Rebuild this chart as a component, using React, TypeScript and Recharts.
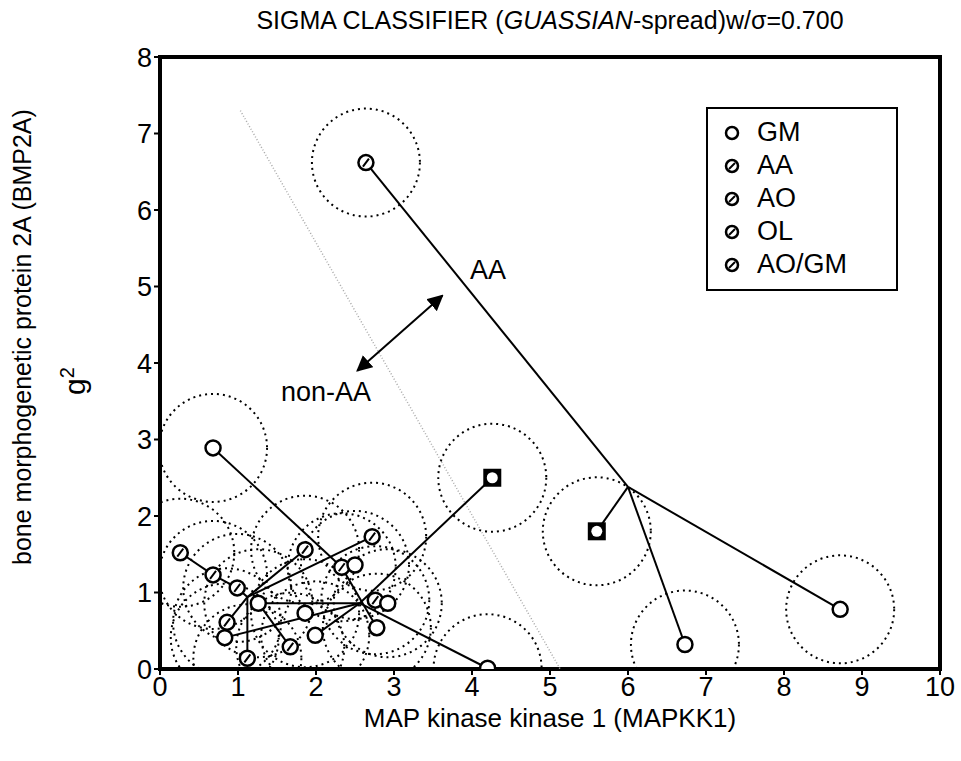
import React from 'react';
import { ScatterChart, Scatter, XAxis, YAxis, ReferenceLine, ReferenceArea } from 'recharts';

const FONT = '"Liberation Sans Narrow", "Liberation Sans", Arial, sans-serif';

// samples: x = MAPKK1, y = BMP2A, kind = legend class
const samples = [
  { x: 2.64, y: 6.62, kind: 'AA' },
  { x: 8.72, y: 0.78, kind: 'GM' },
  { x: 6.73, y: 0.32, kind: 'GM' },
  { x: 0.68, y: 2.89, kind: 'GM' },
  { x: 2.72, y: 1.73, kind: 'AO' },
  { x: 0.26, y: 1.52, kind: 'AO' },
  { x: 1.86, y: 1.56, kind: 'AA' },
  { x: 0.68, y: 1.23, kind: 'AO' },
  { x: 0.99, y: 1.06, kind: 'AO' },
  { x: 2.33, y: 1.33, kind: 'OL' },
  { x: 2.5, y: 1.36, kind: 'GM' },
  { x: 1.26, y: 0.86, kind: 'GM' },
  { x: 2.76, y: 0.9, kind: 'OL' },
  { x: 2.92, y: 0.86, kind: 'GM' },
  { x: 1.86, y: 0.73, kind: 'GM' },
  { x: 0.86, y: 0.61, kind: 'AO' },
  { x: 0.83, y: 0.41, kind: 'GM' },
  { x: 1.99, y: 0.44, kind: 'GM' },
  { x: 2.78, y: 0.54, kind: 'GM' },
  { x: 1.67, y: 0.29, kind: 'AA' },
  { x: 1.12, y: 0.14, kind: 'AO' },
  { x: 4.2, y: 0.01, kind: 'GM' },
];

const prototypes = [
  { x: 4.26, y: 2.5 },
  { x: 5.6, y: 1.8 },
];

// tree links [x1, y1, x2, y2]
const links: [number, number, number, number][] = [
  [2.64, 6.62, 6.0, 2.38],
  [6.0, 2.38, 8.72, 0.78],
  [6.0, 2.38, 6.73, 0.32],
  [6.0, 2.38, 5.6, 1.8],
  [0.68, 2.89, 2.33, 1.33],
  [2.33, 1.33, 2.78, 0.54],
  [4.26, 2.5, 2.56, 0.86],
  [2.56, 0.86, 4.2, 0.01],
  [2.56, 0.86, 1.26, 0.86],
  [2.56, 0.86, 0.83, 0.41],
  [2.56, 0.86, 1.99, 0.44],
  [1.12, 0.94, 2.72, 1.73],
  [1.12, 0.94, 1.86, 1.56],
  [0.86, 0.61, 1.12, 0.94],
  [1.12, 0.94, 1.12, 0.14],
  [0.26, 1.52, 0.68, 1.23],
  [0.68, 1.23, 0.99, 1.06],
  [0.99, 1.06, 1.12, 0.94],
  [1.26, 0.86, 1.67, 0.29],
];

const xTicks = [0, 1, 2, 3, 4, 5, 6, 7, 8, 9, 10];
const yTicks = [0, 1, 2, 3, 4, 5, 6, 7, 8];
const legendItems = ['GM', 'AA', 'AO', 'OL', 'AO/GM'];

const Halo = (p: any) => (
  <circle cx={p.cx} cy={p.cy} r={54} fill="none" stroke="#000" strokeWidth={2} strokeDasharray="2 4" />
);

const Marker = (p: any) => (
  <g>
    <circle cx={p.cx} cy={p.cy} r={7.5} fill="#fff" stroke="#000" strokeWidth={2.5} />
    {p.payload && p.payload.kind !== 'GM' && (
      <line x1={p.cx - 3} y1={p.cy + 4} x2={p.cx + 3} y2={p.cy - 4} stroke="#000" strokeWidth={2} />
    )}
  </g>
);

const Proto = (p: any) => (
  <g>
    <rect x={p.cx - 9} y={p.cy - 9} width={18} height={18} fill="#000" />
    <circle cx={p.cx} cy={p.cy} r={5.5} fill="#fff" />
  </g>
);

const tick = { fill: '#000', fontSize: 27, fontFamily: FONT };

export default function App() {
  return (
    <div style={{ position: 'absolute', left: 0, top: 0, width: 961, height: 761, background: '#fff', fontFamily: FONT }}>
      <div style={{ position: 'absolute', left: 160, width: 780, top: 6, textAlign: 'center', fontSize: 25 }}>
        SIGMA CLASSIFIER (<i>GUASSIAN</i>-spread)w/σ=0.700
      </div>
      <ScatterChart width={961} height={761} margin={{ top: 57, right: 21, bottom: 52, left: 100 }}>
        <defs>
          <marker id="ah" viewBox="0 0 10 10" refX="9" refY="5" markerWidth="8" markerHeight="8" orient="auto-start-reverse">
            <path d="M0,0 L10,5 L0,10 z" fill="#000" />
          </marker>
        </defs>
        <XAxis type="number" dataKey="x" domain={[0, 10]} ticks={xTicks} tick={tick} tickLine={{ stroke: '#000', strokeWidth: 2 }}
          tickSize={6} axisLine={false} height={40} allowDataOverflow
          label={{ value: 'MAP kinase kinase 1 (MAPKK1)', position: 'bottom', offset: 0, fill: '#000', fontSize: 26, fontFamily: FONT }} />
        <YAxis type="number" dataKey="y" domain={[0, 8]} ticks={yTicks} tick={tick} tickLine={{ stroke: '#000', strokeWidth: 2 }}
          tickSize={6} axisLine={false} width={60} allowDataOverflow />
        <ReferenceLine segment={[{ x: 1.03, y: 7.3 }, { x: 5.13, y: 0 }]} stroke="#aaa" strokeWidth={1.5} strokeDasharray="1 2" />
        <Scatter data={samples} shape={Halo} isAnimationActive={false} />
        <Scatter data={prototypes} shape={Halo} isAnimationActive={false} />
        {links.map((l, i) => (
          <ReferenceLine key={i} segment={[{ x: l[0], y: l[1] }, { x: l[2], y: l[3] }]} stroke="#000" strokeWidth={2} />
        ))}
        <ReferenceLine segment={[{ x: 2.53, y: 3.9 }, { x: 3.62, y: 4.88 }]} stroke="#000" strokeWidth={2}
          markerStart="url(#ah)" markerEnd="url(#ah)" />
        <ReferenceArea x1={0} x2={10} y1={0} y2={8} fill="none" stroke="#000" strokeWidth={4} ifOverflow="visible" />
        <Scatter data={samples} shape={Marker} isAnimationActive={false} />
        <Scatter data={prototypes} shape={Proto} isAnimationActive={false} />
      </ScatterChart>
      <div style={{ position: 'absolute', left: 470, top: 255, fontSize: 27 }}>AA</div>
      <div style={{ position: 'absolute', left: 281, top: 377, fontSize: 27 }}>non-AA</div>
      <div style={{ position: 'absolute', left: 56, top: 350, fontSize: 30, transform: 'rotate(-90deg)', transformOrigin: 'left top', top: 395 } as any}>
        g<sup style={{ fontSize: 20 }}>2</sup>
      </div>
      <div style={{ position: 'absolute', left: 8, top: 565, width: 420, fontSize: 25, transform: 'rotate(-90deg)', transformOrigin: 'left top', whiteSpace: 'nowrap' }}>
        bone morphogenetic protein 2A (BMP2A)
      </div>
      <div style={{ position: 'absolute', left: 706, top: 107, width: 188, height: 180, border: '2px solid #000', background: '#fff' }}>
        {legendItems.map((t, i) => (
          <div key={t} style={{ position: 'absolute', left: 15, top: 8 + i * 33, fontSize: 27, display: 'flex', alignItems: 'center' }}>
            <svg width={18} height={18} style={{ marginRight: 16 }}>
              <circle cx={9} cy={9} r={6} fill="#fff" stroke="#000" strokeWidth={2.5} />
              {i > 0 && <line x1={6} y1={12} x2={12} y2={6} stroke="#000" strokeWidth={2} />}
            </svg>
            {t}
          </div>
        ))}
      </div>
    </div>
  );
}
